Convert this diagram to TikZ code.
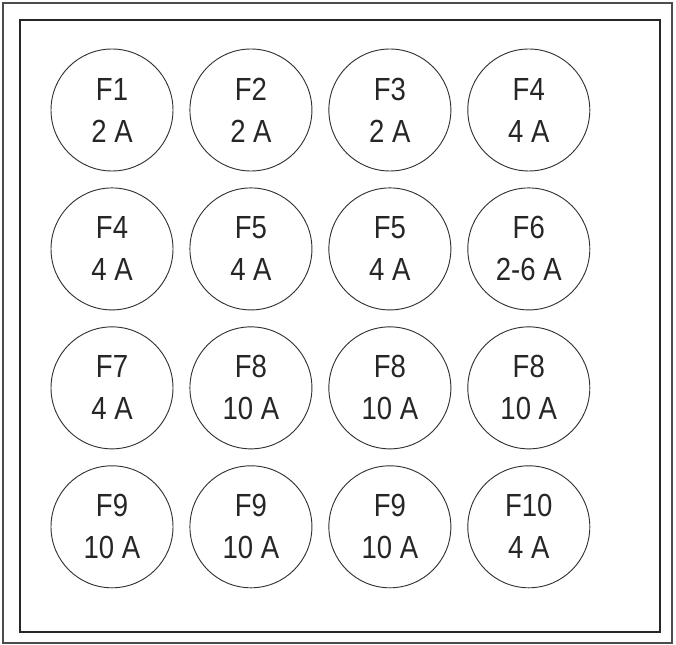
\documentclass[tikz,border=0pt]{standalone}
\usepackage{fontspec}
\setmainfont{Liberation Sans}[FakeStretch=0.86]
\usetikzlibrary{positioning}

\begin{document}
\begin{tikzpicture}[
  x=0.75pt, y=-0.75pt,
  node distance=12pt and 12pt,
  fuse/.style={draw=black!80, line width=0.7pt, circle, minimum size=91.5pt,
               inner sep=0pt, align=center, font=\fontsize{24}{31.5}\selectfont,
               text=black!85},
  frame/.style={draw=black!85, line width=1.1pt}
]
  \useasboundingbox (0,0) rectangle (676,645);
  \draw[draw=black!70, line width=0.9pt] (3,3) rectangle (672,643);
  \draw[frame] (20,20) rectangle (660,632);

  % first row
  \node[fuse] (r1c1) at (112,110) {F1\\2 A};
  \node[fuse, right=of r1c1] (r1c2) {F2\\2 A};
  \node[fuse, right=of r1c2] (r1c3) {F3\\2 A};
  \node[fuse, right=of r1c3] (r1c4) {F4\\4 A};

  % second row
  \node[fuse, below=of r1c1] (r2c1) {F4\\4 A};
  \node[fuse, right=of r2c1] (r2c2) {F5\\4 A};
  \node[fuse, right=of r2c2] (r2c3) {F5\\4 A};
  \node[fuse, right=of r2c3] (r2c4) {F6\\2-6 A};

  % third row
  \node[fuse, below=of r2c1] (r3c1) {F7\\4 A};
  \node[fuse, right=of r3c1] (r3c2) {F8\\10 A};
  \node[fuse, right=of r3c2] (r3c3) {F8\\10 A};
  \node[fuse, right=of r3c3] (r3c4) {F8\\10 A};

  % fourth row
  \node[fuse, below=of r3c1] (r4c1) {F9\\10 A};
  \node[fuse, right=of r4c1] (r4c2) {F9\\10 A};
  \node[fuse, right=of r4c2] (r4c3) {F9\\10 A};
  \node[fuse, right=of r4c3] (r4c4) {F10\\4 A};
\end{tikzpicture}
\end{document}
